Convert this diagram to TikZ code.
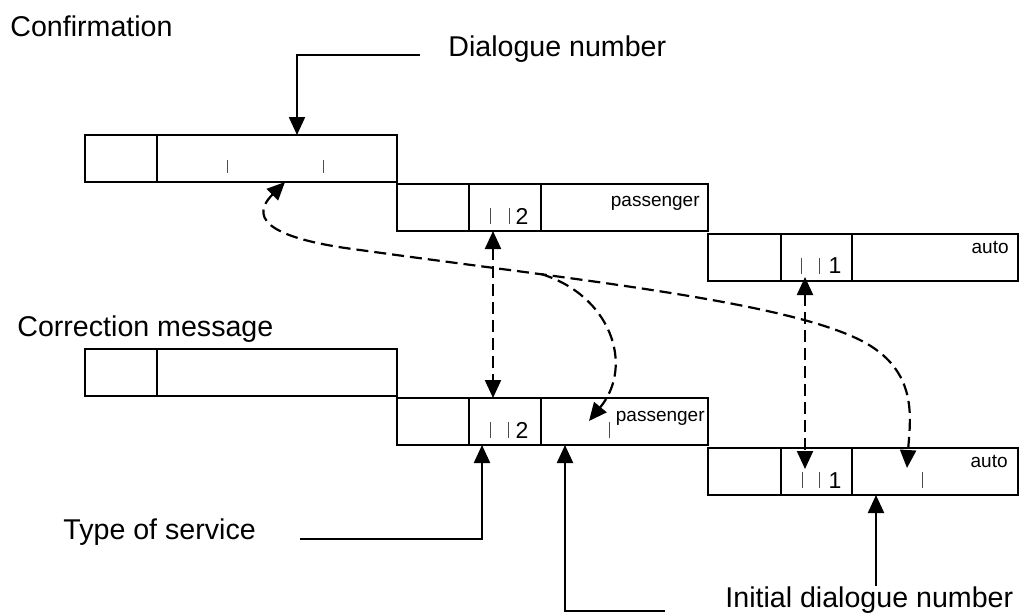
\documentclass[tikz,border=0pt]{standalone}
\usepackage{fontspec}
\setmainfont{Liberation Sans}
\usetikzlibrary{arrows.meta,calc,positioning}

\tikzset{
  cell/.style={draw, line width=1.1pt, minimum height=23.5pt, outer sep=0pt, inner sep=0pt},
  lbl/.style={font=\fontsize{14.3}{16}\selectfont, anchor=base west, inner sep=0pt},
  small/.style={font=\fontsize{9.5}{10}\selectfont, anchor=base east, inner sep=0pt},
  num/.style={font=\fontsize{11.5}{12}\selectfont, anchor=base, inner sep=0pt},
  tick/.style={black!70, line width=0.5pt},
  ptr/.style={line width=1.1pt, ->},
  dashlink/.style={line width=1.1pt, dash pattern=on 6pt off 3pt},
}

\begin{document}
\begin{tikzpicture}[x=0.5pt, y=-0.5pt, >={Triangle[length=9pt,width=8pt]}]
  \useasboundingbox (0,0) rectangle (1024,616);

  % labels
  \node[lbl] (conf) at (10,36) {Confirmation};
  \node[lbl] (dlgno) at (448,56) {Dialogue number};
  \node[lbl] (corr) at (17,336) {Correction message};
  \node[lbl] (tos) at (63,539) {Type of service};
  \node[lbl] (initno) at (725,607) {Initial dialogue number};

  % confirmation message
  \node[cell, minimum width=36pt, anchor=north west] (ta1) at (85,135) {};
  \node[cell, minimum width=120pt, right=0pt of ta1] (ta2) {};
  \node[cell, minimum width=36pt, anchor=north west] (tb1) at (397,184) {};
  \node[cell, minimum width=36pt, right=0pt of tb1] (tb2) {};
  \node[cell, minimum width=83.5pt, right=0pt of tb2] (tb3) {};
  \node[cell, minimum width=36.5pt, anchor=north west] (tc1) at (708,234) {};
  \node[cell, minimum width=35.5pt, right=0pt of tc1] (tc2) {};
  \node[cell, minimum width=83pt, right=0pt of tc2] (tc3) {};

  % correction message
  \node[cell, minimum width=36pt, anchor=north west] (ba1) at (85,349) {};
  \node[cell, minimum width=120pt, right=0pt of ba1] (ba2) {};
  \node[cell, minimum width=36pt, anchor=north west] (bb1) at (397,398) {};
  \node[cell, minimum width=36pt, right=0pt of bb1] (bb2) {};
  \node[cell, minimum width=83.5pt, right=0pt of bb2] (bb3) {};
  \node[cell, minimum width=36.5pt, anchor=north west] (bc1) at (708,448) {};
  \node[cell, minimum width=35.5pt, right=0pt of bc1] (bc2) {};
  \node[cell, minimum width=83pt, right=0pt of bc2] (bc3) {};

  % field contents
  \foreach \x in {227,323} \draw[tick] (\x,160) -- (\x,173);
  \foreach \x/\y in {490/208,509/208,801/258,819/258,490/422,508/422,609/422,802/472,819/472,922/472}
    \draw[tick] (\x,\y) -- (\x,\y+16);
  \node[num] (tn2) at (522,224) {2};
  \node[num] (tn1) at (835,273) {1};
  \node[num] (bn2) at (522,438) {2};
  \node[num] (bn1) at (835,488) {1};
  \node[small] (tpass) at (700,206) {passenger};
  \node[small] (tauto) at (1009,253) {auto};
  \node[small] (bpass) at (705,421) {passenger};
  \node[small] (bauto) at (1008,467) {auto};

  % pointers
  \coordinate (dn) at (420,55);
  \coordinate (ts) at (300,539);
  \coordinate (sv) at (665,611);
  \coordinate (id) at (876,586);
  \draw[ptr] (dn) -| ([xshift=70pt]ta2.north west);
  \draw[ptr] (ts) -| ([xshift=6.5pt]bb2.south west);
  \draw[ptr] (sv) -| ([xshift=12pt]bb3.south west);
  \draw[ptr] (id) -- ([xshift=12pt]bc3.south west);

  % dashed links
  \draw[dashlink, <->] ([xshift=12pt]tb2.south west) -- ([xshift=12pt]bb2.north west);
  \draw[dashlink, <->] ([xshift=12pt,yshift=2pt]tc2.south west) -- ([xshift=12pt,yshift=-10.5pt]bc2.north west);
  \draw[dashlink, <->] ([xshift=64pt]ta2.south west)
    .. controls (245,222) and (280,240) .. (360,250)
    .. controls (560,278) and (780,300) .. (860,340)
    .. controls (920,370) and (910,420) .. ([xshift=27.5pt,yshift=-10pt]bc3.north west);
  \coordinate (fork) at (541,274);
  \draw[dashlink, ->] (fork) .. controls (610,295) and (635,365) .. ([xshift=24pt,yshift=-11.5pt]bb3.north west);
\end{tikzpicture}
\end{document}
